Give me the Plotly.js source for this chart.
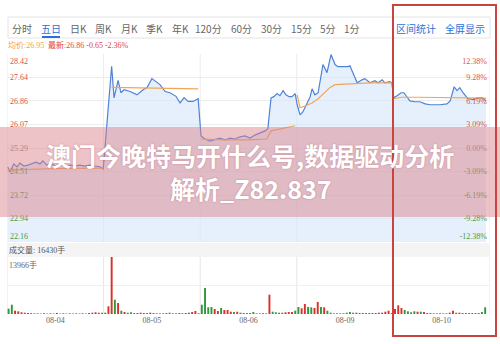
<!DOCTYPE html>
<html>
<head>
<meta charset="utf-8">
<script src="https://cdn.plot.ly/plotly-3.0.1.min.js"></script>
<style>
  html, body { margin: 0; padding: 0; background: #fff; }
  #chart { width: 500px; height: 344px; }
</style>
</head>
<body>
<div id="chart"></div>
<script>
// ---- data ----------------------------------------------------------------
const dates = ['08-04', '08-05', '08-06', '08-09', '08-10'];
const MIN_PER_DAY = 240;
const BARS_PER_DAY = 30;

// price grid levels and the change they represent
const priceLevels = [22.16, 22.94, 23.72, 24.51, 25.29, 26.07, 26.86, 27.64, 28.42];
const pctLabels = ['-12.38%', '-9.28%', '-6.19%', '-3.09%', '0.00%', '3.09%', '6.19%', '9.28%', '12.38%'];

// minute since the open, last price
const d1Min = [2, 7, 17, 25, 32, 42, 52, 62, 72, 82, 89, 99, 109, 119, 132, 144, 157, 169, 181, 194, 206, 219, 231, 239];
const d1Price = [24.66, 24.49, 24.76, 24.66, 24.79, 24.69, 24.72, 24.76, 24.82, 24.76, 24.86, 24.72, 24.79, 24.69, 24.76, 24.69, 24.72, 24.69, 24.72, 24.69, 24.72, 24.69, 24.66, 24.59];
const d2Min = [20, 26, 36, 43, 51, 66, 83, 98, 108, 120, 128, 140, 153, 165, 180, 190, 200, 210, 222, 235];
const d2Price = [28.01, 26.96, 27.54, 27.13, 27.23, 27.17, 27.06, 27.23, 27.30, 27.60, 27.51, 27.40, 27.17, 27.13, 27.01, 26.79, 26.97, 26.84, 26.84, 26.93];
const d3Min = [2, 12, 24, 37, 49, 62, 74, 86, 99, 111, 124, 136, 149, 161, 168, 176, 183, 191, 198, 206, 213, 221, 228, 236];
const d3Price = [25.69, 25.59, 25.52, 25.56, 25.62, 25.56, 25.62, 25.59, 25.66, 25.69, 25.62, 25.72, 25.79, 25.86, 25.93, 26.96, 27.00, 27.10, 27.03, 27.20, 27.06, 27.00, 27.00, 27.10];
const d4Min = [1, 8, 15, 25, 33, 38, 45, 53, 60, 65, 75, 85, 95, 102, 115, 127, 132, 142, 150, 162, 169, 182, 194, 202, 212, 219, 231, 236];
const d4Price = [26.73, 26.39, 26.49, 26.76, 26.99, 27.26, 27.06, 27.13, 27.73, 28.07, 27.80, 28.40, 28.07, 28.00, 28.00, 28.00, 28.03, 27.73, 27.46, 27.56, 27.60, 27.46, 27.53, 27.46, 27.56, 27.46, 27.50, 27.46];
const d5Min = [1, 9, 19, 26, 34, 41, 54, 66, 79, 91, 103, 116, 133, 141, 151, 158, 165, 173, 185, 198, 210, 220, 230];
const d5Price = [26.96, 27.03, 27.13, 27.13, 27.00, 26.86, 26.83, 26.83, 26.76, 26.73, 26.73, 26.73, 26.76, 26.86, 27.33, 27.20, 27.30, 27.13, 26.93, 26.90, 26.96, 26.96, 26.86];

// minute since the open, running average price
const d1AvgMin = [2, 60, 120, 180, 239];
const d1Avg = [24.55, 24.58, 24.60, 24.61, 24.62];
const d2AvgMin = [20, 80, 140, 200, 235];
const d2Avg = [27.31, 27.30, 27.30, 27.27, 27.26];
const d3AvgMin = [2, 60, 120, 165, 176, 200, 236];
const d3Avg = [25.59, 25.56, 25.56, 25.59, 25.86, 25.93, 26.03];
const d4AvgMin = [1, 8, 20, 38, 53, 70, 82, 95, 132, 182, 236];
const d4Avg = [27.06, 26.63, 26.69, 26.79, 26.93, 27.16, 27.30, 27.40, 27.43, 27.46, 27.46];
const d5AvgMin = [1, 20, 60, 140, 230];
const d5Avg = [26.93, 26.98, 26.98, 26.96, 26.95];

// volume (手) per 8-minute bar, and whether the bar closed up (r) or down (g)
const d1Vol = [1298, 2276, 812, 655, 418, 322, 240, 236, 168, 172, 115, 166, 118, 175, 122, 248, 119, 171, 116, 169, 124, 173, 121, 168, 117, 251, 318, 425, 316, 329];
const d1Dir = 'ggrrrrrggggrrggrgrgrrgrrgrrrrg';
const d2Vol = [318, 1886, 13966, 3504, 2695, 809, 490, 318, 417, 245, 242, 318, 247, 244, 320, 246, 171, 168, 173, 245, 318, 170, 172, 245, 169, 248, 318, 490, 735, 170];
const d2Dir = 'grrgrgrgggrrrgrgggggggrrrrrrrr';
const d3Vol = [2279, 6370, 1642, 1715, 1225, 735, 1470, 980, 980, 564, 490, 564, 318, 245, 247, 243, 490, 170, 172, 168, 171, 4729, 564, 417, 318, 322, 417, 490, 488, 809];
const d3Dir = 'ggggrrgrrrgrgggrgggrgrggggrrrg';
const d4Vol = [1715, 1397, 2450, 1715, 1642, 1470, 2940, 1715, 1642, 809, 318, 172, 168, 175, 170, 318, 490, 318, 320, 245, 240, 250, 246, 242, 248, 318, 322, 564, 809, 245];
const d4Dir = 'grrggrrgrgggrgggggrgrggrrrrrrg';
const d5Vol = [1225, 2132, 1470, 980, 662, 417, 662, 564, 564, 490, 245, 240, 170, 168, 172, 166, 170, 318, 809, 318, 322, 245, 240, 248, 243, 250, 246, 490, 1642];
const d5Dir = 'rrrggggrgrggggrggrrgrgggggggg';

const VOL_MAX = 13966;
const volumeShown = 16430;
const prevClose = 27.51;

const tabs = ['分时', '五日', '日K', '周K', '月K', '季K', '年K', '120分', '60分', '30分', '15分', '5分', '1分'];
const activeTab = '五日';
const tools = ['区间统计', '全屏显示'];
const bannerLines = ['澳门今晚特马开什么号,数据驱动分析', '解析_Z82.837'];

// ---- build traces ----------------------------------------------------------
const days = [
  { min: d1Min, price: d1Price, avgMin: d1AvgMin, avg: d1Avg, vol: d1Vol, dir: d1Dir },
  { min: d2Min, price: d2Price, avgMin: d2AvgMin, avg: d2Avg, vol: d2Vol, dir: d2Dir },
  { min: d3Min, price: d3Price, avgMin: d3AvgMin, avg: d3Avg, vol: d3Vol, dir: d3Dir },
  { min: d4Min, price: d4Price, avgMin: d4AvgMin, avg: d4Avg, vol: d4Vol, dir: d4Dir },
  { min: d5Min, price: d5Price, avgMin: d5AvgMin, avg: d5Avg, vol: d5Vol, dir: d5Dir }
];

const priceX = [], priceY = [], avgX = [], avgY = [];
const volX = [], volY = [], volC = [];
const UP = '#d9312b', DOWN = '#2f9a3c';
const barSlot = MIN_PER_DAY / BARS_PER_DAY;
days.forEach((day, d) => {
  const off = d * MIN_PER_DAY;
  day.min.forEach((m, i) => { priceX.push(off + m); priceY.push(day.price[i]); });
  day.avgMin.forEach((m, i) => { avgX.push(off + m); avgY.push(day.avg[i]); });
  avgX.push(null); avgY.push(null);
  day.vol.forEach((v, j) => {
    volX.push(off + (j + 0.5) * barSlot);
    volY.push(v);
    volC.push(day.dir[j] === 'r' ? UP : DOWN);
  });
});

const traces = [
  { type: 'scatter', mode: 'lines', x: priceX, y: priceY, xaxis: 'x', yaxis: 'y',
    line: { color: '#4f82d6', width: 1.2 }, fill: 'tozeroy', fillcolor: 'rgba(214,230,250,0.6)',
    hoverinfo: 'skip' },
  { type: 'scatter', mode: 'lines', x: avgX, y: avgY, xaxis: 'x', yaxis: 'y',
    line: { color: '#f2a55a', width: 1.2 }, connectgaps: false, hoverinfo: 'skip' },
  { type: 'bar', x: volX, y: volY, xaxis: 'x2', yaxis: 'y2',
    marker: { color: volC, line: { width: 0 } }, width: barSlot * 0.6, hoverinfo: 'skip' },
  { type: 'scatter', x: [null], y: [null], xaxis: 'x', yaxis: 'y3', hoverinfo: 'skip' },
  { type: 'scatter', x: [null], y: [null], xaxis: 'x', yaxis: 'y4', hoverinfo: 'skip' }
];

// ---- layout ---------------------------------------------------------------
const W = 500, H = 344;
const fx = v => v / W;
const fy = v => 1 - v / H;
const SERIF = '"Liberation Serif", "Noto Sans CJK SC", serif';
const SANS = '"Noto Sans CJK SC", "Noto Sans", sans-serif';
const GREY = '#8a8a8a';

const PLOT_L = 7, PLOT_R = 490, PRICE_T = 54, PRICE_B = 242, VOL_T = 257, VOL_B = 314;
const lo = priceLevels[0], hi = priceLevels[priceLevels.length - 1];
const perPx = (hi - lo) / (PRICE_B - PRICE_T);
const mid = Math.floor(priceLevels.length / 2);
const levelColor = i => (i > mid ? '#d9534f' : i < mid ? '#3c9c4c' : GREY);

// end labels sit just inside the plot edge
const labelPos = priceLevels.slice();
labelPos[0] = lo + 6 * perPx;
labelPos[labelPos.length - 1] = hi - 7 * perPx;
const leftText = priceLevels.map((v, i) => `<span style="color:${levelColor(i)}">${v.toFixed(2)}</span>`);
const rightText = pctLabels.map((t, i) => `<span style="color:${levelColor(i)}">${t}</span>`);

// day boundaries and day centres on the minute axis
const bounds = dates.map((_, d) => d * MIN_PER_DAY).concat([dates.length * MIN_PER_DAY]);
const centres = dates.map((_, d) => (d + 0.5) * MIN_PER_DAY);

const tabCenters = [22, 51, 78, 103, 129, 154, 180, 208, 241, 271, 301, 328, 352];
const toolCenters = [416, 465];

const annotations = [];
tabs.forEach((t, i) => annotations.push({
  xref: 'paper', yref: 'paper', x: fx(tabCenters[i]), y: fy(28), text: t, showarrow: false,
  xanchor: 'center', yanchor: 'middle',
  font: { family: SANS, size: 10, color: t === activeTab ? '#2b6fd8' : '#666' }
}));
tools.forEach((t, i) => annotations.push({
  xref: 'paper', yref: 'paper', x: fx(toolCenters[i]), y: fy(28), text: t, showarrow: false,
  xanchor: 'center', yanchor: 'middle', font: { family: SANS, size: 10, color: '#2b6fd8' }
}));

const lastPrice = d5Price[d5Price.length - 1];
const lastAvg = d5Avg[d5Avg.length - 1];
const chg = lastPrice - prevClose;
const chgPct = chg / prevClose * 100;
annotations.push({
  xref: 'paper', yref: 'paper', x: fx(6), y: fy(45), xanchor: 'left', yanchor: 'middle', showarrow: false,
  text: `均价:${lastAvg.toFixed(2)}`, font: { family: SERIF, size: 8, color: '#f0a04b' }
});
annotations.push({
  xref: 'paper', yref: 'paper', x: fx(46), y: fy(45), xanchor: 'left', yanchor: 'middle', showarrow: false,
  text: `最新:${lastPrice.toFixed(2)} ${chg.toFixed(2)} ${chgPct.toFixed(2)}%`,
  font: { family: SERIF, size: 8, color: '#e0443e' }
});
annotations.push({
  xref: 'paper', yref: 'paper', x: fx(7), y: fy(250), xanchor: 'left', yanchor: 'middle', showarrow: false,
  text: `成交量: ${volumeShown}手`, font: { family: SERIF, size: 8, color: '#555' }
});
annotations.push({
  xref: 'paper', yref: 'paper', x: fx(7), y: fy(265), xanchor: 'left', yanchor: 'middle', showarrow: false,
  text: `${VOL_MAX}手`, font: { family: SERIF, size: 8, color: '#666' }
});
const bannerY = [155, 188];
bannerLines.forEach((t, i) => annotations.push({
  xref: 'paper', yref: 'paper', x: 0.5, y: fy(bannerY[i]), xanchor: 'center', yanchor: 'middle',
  showarrow: false, text: `<b>${t}</b>`,
  font: { family: SANS, size: 25, color: '#ffffff', shadow: '0px 0px 2px rgba(150,60,70,0.45)' }
}));

const shapes = [
  // strip behind the volume caption
  { type: 'rect', layer: 'below', xref: 'paper', yref: 'paper',
    x0: fx(PLOT_L), x1: fx(PLOT_R), y0: fy(VOL_T), y1: fy(PRICE_B + 1),
    fillcolor: '#f4f4f4', line: { width: 0 } },
  // tab bar frame
  { type: 'rect', layer: 'below', xref: 'paper', yref: 'paper',
    x0: fx(8), x1: fx(490), y0: fy(38), y1: fy(17), fillcolor: 'rgba(0,0,0,0)',
    line: { color: '#e4e4e4', width: 1 } },
  // active tab underline
  { type: 'line', xref: 'paper', yref: 'paper', x0: fx(42), x1: fx(60), y0: fy(37), y1: fy(37),
    line: { color: '#2b6fd8', width: 2 } }
];
// day separators in both panels
bounds.forEach(b => {
  shapes.push({ type: 'line', layer: 'below', xref: 'x', yref: 'y domain', x0: b, x1: b, y0: 0, y1: 1,
    line: { color: '#ececec', width: 1 } });
  shapes.push({ type: 'line', layer: 'below', xref: 'x2', yref: 'y2 domain', x0: b, x1: b, y0: 0, y1: 1,
    line: { color: '#e6e6e6', width: 1 } });
});
shapes.push(
  // headline banner
  { type: 'rect', layer: 'above', xref: 'paper', yref: 'paper',
    x0: 0, x1: 1, y0: fy(217), y1: fy(127), fillcolor: 'rgba(218,130,140,0.48)', line: { width: 0 } },
  // highlight frame round the tools
  { type: 'rect', layer: 'above', xref: 'paper', yref: 'paper',
    x0: fx(393), x1: fx(496), y0: fy(336), y1: fy(5), fillcolor: 'rgba(0,0,0,0)',
    line: { color: '#c8453f', width: 2 } }
);

const layout = {
  width: W, height: H,
  margin: { l: 0, r: 0, t: 0, b: 0 },
  paper_bgcolor: '#ffffff', plot_bgcolor: 'rgba(0,0,0,0)',
  showlegend: false,
  xaxis: { domain: [fx(PLOT_L), fx(PLOT_R)], range: [0, dates.length * MIN_PER_DAY], anchor: 'y',
    showticklabels: false, ticks: '', showgrid: false, zeroline: false, showline: false, fixedrange: true },
  yaxis: { domain: [fy(PRICE_B), fy(PRICE_T)], range: [lo, hi], anchor: 'x',
    tickmode: 'array', tickvals: priceLevels, showticklabels: false, ticks: '',
    showgrid: true, gridcolor: '#ececec', zeroline: false, showline: false, fixedrange: true },
  yaxis3: { overlaying: 'y', anchor: 'x', side: 'left', range: [lo, hi],
    tickmode: 'array', tickvals: labelPos, ticktext: leftText, ticklabelposition: 'inside', ticks: '',
    showgrid: false, zeroline: false, showline: false, tickfont: { family: SERIF, size: 8 } },
  yaxis4: { overlaying: 'y', anchor: 'x', side: 'right', range: [lo, hi],
    tickmode: 'array', tickvals: labelPos, ticktext: rightText, ticklabelposition: 'inside', ticks: '',
    showgrid: false, zeroline: false, showline: false, tickfont: { family: SERIF, size: 8 } },
  xaxis2: { domain: [fx(PLOT_L), fx(PLOT_R)], range: [0, dates.length * MIN_PER_DAY], anchor: 'y2',
    tickmode: 'array', tickvals: centres, ticktext: dates, ticks: '',
    showgrid: false, zeroline: false, showline: false,
    tickfont: { family: SERIF, size: 8, color: '#666' } },
  yaxis2: { domain: [fy(VOL_B), fy(VOL_T)], range: [0, VOL_MAX], anchor: 'x2',
    tickmode: 'array', tickvals: [VOL_MAX / 2, VOL_MAX], showticklabels: false, ticks: '',
    showgrid: true, gridcolor: '#f0f0f0', zeroline: false, showline: false },
  shapes: shapes,
  annotations: annotations
};

Plotly.newPlot('chart', traces, layout, { staticPlot: true, displayModeBar: false });
</script>
</body>
</html>
